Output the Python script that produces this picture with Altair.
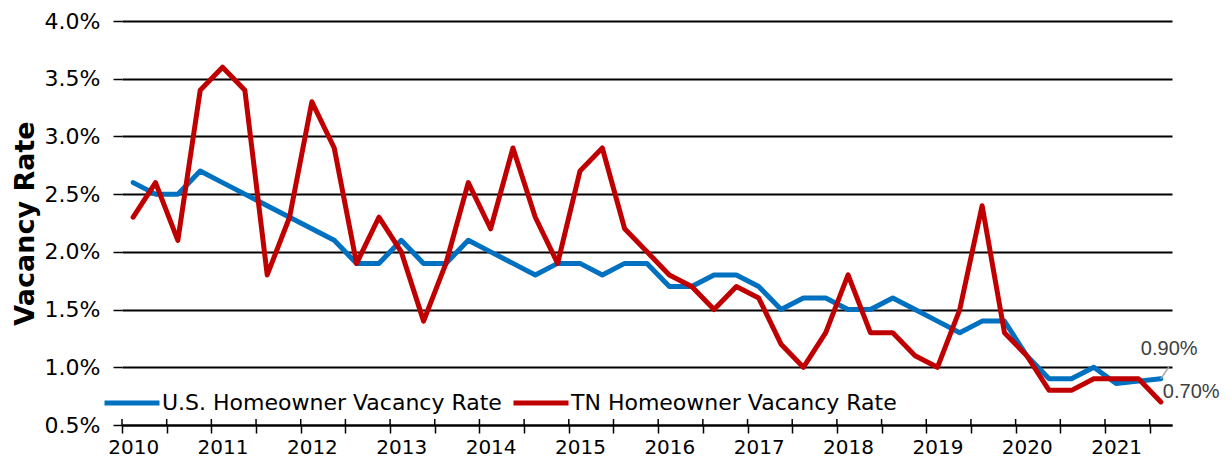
import altair as alt
import pandas as pd

# Quarterly periods 2010 Q1 .. 2021 Q3
quarters = [
    "2010 Q1", "2010 Q2", "2010 Q3", "2010 Q4",
    "2011 Q1", "2011 Q2", "2011 Q3", "2011 Q4",
    "2012 Q1", "2012 Q2", "2012 Q3", "2012 Q4",
    "2013 Q1", "2013 Q2", "2013 Q3", "2013 Q4",
    "2014 Q1", "2014 Q2", "2014 Q3", "2014 Q4",
    "2015 Q1", "2015 Q2", "2015 Q3", "2015 Q4",
    "2016 Q1", "2016 Q2", "2016 Q3", "2016 Q4",
    "2017 Q1", "2017 Q2", "2017 Q3", "2017 Q4",
    "2018 Q1", "2018 Q2", "2018 Q3", "2018 Q4",
    "2019 Q1", "2019 Q2", "2019 Q3", "2019 Q4",
    "2020 Q1", "2020 Q2", "2020 Q3", "2020 Q4",
    "2021 Q1", "2021 Q2", "2021 Q3",
]

us_rate = [
    2.6, 2.5, 2.5, 2.7,
    2.6, 2.5, 2.4, 2.3,
    2.2, 2.1, 1.9, 1.9,
    2.1, 1.9, 1.9, 2.1,
    2.0, 1.9, 1.8, 1.9,
    1.9, 1.8, 1.9, 1.9,
    1.7, 1.7, 1.8, 1.8,
    1.7, 1.5, 1.6, 1.6,
    1.5, 1.5, 1.6, 1.5,
    1.4, 1.3, 1.4, 1.4,
    1.1, 0.9, 0.9, 1.0,
    0.86, 0.88, 0.9,
]

tn_rate = [
    2.3, 2.6, 2.1, 3.4,
    3.6, 3.4, 1.8, 2.3,
    3.3, 2.9, 1.9, 2.3,
    2.0, 1.4, 1.9, 2.6,
    2.2, 2.9, 2.3, 1.9,
    2.7, 2.9, 2.2, 2.0,
    1.8, 1.7, 1.5, 1.7,
    1.6, 1.2, 1.0, 1.3,
    1.8, 1.3, 1.3, 1.1,
    1.0, 1.5, 2.4, 1.3,
    1.1, 0.8, 0.8, 0.9,
    0.9, 0.9, 0.7,
]

series_names = ["U.S. Homeowner Vacancy Rate", "TN Homeowner Vacancy Rate"]
series_colors = ["#0070C0", "#C00000"]
end_labels = ["0.90%", "0.70%"]

y_ticks = [0.5, 1.0, 1.5, 2.0, 2.5, 3.0, 3.5, 4.0]


def to_t(q):
    y, qq = q.split(" Q")
    return int(y) + (int(qq) - 1) / 4


t_vals = [to_t(q) for q in quarters]
rows = []
for name, vals in zip(series_names, [us_rate, tn_rate]):
    for q, t, v in zip(quarters, t_vals, vals):
        rows.append({"quarter": q, "t": t, "rate": v, "series": name})
df = pd.DataFrame(rows)

last = pd.DataFrame({
    "t": [t_vals[-1], t_vals[-1]],
    "rate": [us_rate[-1], tn_rate[-1]],
    "label": end_labels,
    "series": series_names,
})

x0 = t_vals[0] - 0.125
x1 = t_vals[-1] + 0.125
n_cat = len(quarters)
boundaries = [x0 + 0.25 * k for k in range(n_cat + 1)]
tick_df = pd.DataFrame({"b": boundaries, "major": [k % 2 == 0 for k in range(n_cat + 1)]})

W, H = 1050, 404
half_cat = W / n_cat / 2

FONT = "DejaVu Sans"

x_scale = alt.Scale(domain=[x0, x1], nice=False, zero=False)
y_scale = alt.Scale(domain=[0.5, 4.0], nice=False, zero=False)

x_axis = alt.Axis(
    values=boundaries,
    title=None,
    grid=False,
    domain=True,
    domainColor="black",
    domainWidth=2,
    ticks=True,
    tickColor="black",
    tickWidth=1.5,
    tickSize={"condition": {"test": f"round((datum.value - {x0}) * 4) % 2 == 0", "value": 8}, "value": 5},
    labelExpr=f"(round((datum.value - {x0}) * 4) % 4 == 0 && datum.value < {x1 - 0.1}) ? floor(datum.value + 0.2) : ''",
    labelOffset=half_cat,
    labelAlign="center",
    labelBaseline="alphabetic",
    labelFont=FONT,
    labelFontSize=20,
    labelColor="black",
    labelPadding=20,
    labelOverlap=False,
    labelFlush=False,
    labelBound=False,
)

y_axis = alt.Axis(
    values=y_ticks,
    title="Vacancy Rate",
    titleFont=FONT,
    titleFontSize=27,
    titleFontWeight="bold",
    titleColor="black",
    titleAngle=-90,
    titleX=-89,
    titleBaseline="alphabetic",
    titleAlign="center",
    domain=False,
    grid=True,
    gridColor="black",
    gridWidth=1.8,
    gridOpacity=1,
    tickColor="black",
    tickSize=9,
    tickWidth=1.5,
    labelExpr="format(datum.value, '.1f') + '%'",
    labelFont=FONT,
    labelFontSize=22,
    labelColor="black",
    labelPadding=13,
)

color_scale = alt.Scale(domain=series_names, range=series_colors)

# upper half of the major x ticks (they cross the axis line)
tick_up = alt.Chart(tick_df).transform_filter("datum.major").mark_rule(
    color="black", strokeWidth=1.5
).encode(
    x=alt.X("b:Q", scale=x_scale),
    y=alt.value(H - 6),
    y2=alt.value(H),
)

lines = alt.Chart(df).mark_line(strokeWidth=5, strokeJoin="round", strokeCap="round").encode(
    x=alt.X("t:Q", scale=x_scale, axis=x_axis),
    y=alt.Y("rate:Q", scale=y_scale, axis=y_axis),
    color=alt.Color(
        "series:N",
        scale=color_scale,
        sort=series_names,
        legend=alt.Legend(
            title=None,
            orient="none",
            legendX=-20,
            legendY=352,
            direction="horizontal",
            symbolType="stroke",
            symbolSize=3025,
            symbolStrokeWidth=5,
            labelFont=FONT,
            labelFontSize=22,
            labelColor="black",
            labelOffset=0,
            columnPadding=1,
            labelLimit=500,
            padding=0,
        ),
    ),
    order=alt.Order("t:Q"),
    detail="series:N",
)

leader = alt.Chart(last.iloc[[0]]).mark_rule(
    color="#A6A6A6", strokeWidth=1.5, x2Offset=8, y2Offset=-12
).encode(
    x=alt.X("t:Q", scale=x_scale),
    x2="t:Q",
    y=alt.Y("rate:Q", scale=y_scale),
    y2="rate:Q",
)

label_us = alt.Chart(last.iloc[[0]]).mark_text(
    align="left", baseline="alphabetic", dx=-20, dy=-24,
    font="Liberation Sans", fontSize=20, color="#404040"
).encode(
    x=alt.X("t:Q", scale=x_scale),
    y=alt.Y("rate:Q", scale=y_scale),
    text="label:N",
)

label_tn = alt.Chart(last.iloc[[1]]).mark_text(
    align="left", baseline="middle", dx=2, dy=-10,
    font="Liberation Sans", fontSize=20, color="#404040"
).encode(
    x=alt.X("t:Q", scale=x_scale),
    y=alt.Y("rate:Q", scale=y_scale),
    text="label:N",
)

chart = alt.layer(lines, tick_up, leader, label_us, label_tn).properties(
    width=W,
    height=H,
    background="white",
    autosize=alt.AutoSizeParams(type="none"),
    padding={"left": 114, "top": 13, "right": 50, "bottom": 33},
).configure_view(stroke=None)

chart.save("out.html", embed_options={"renderer": "svg", "actions": False})
